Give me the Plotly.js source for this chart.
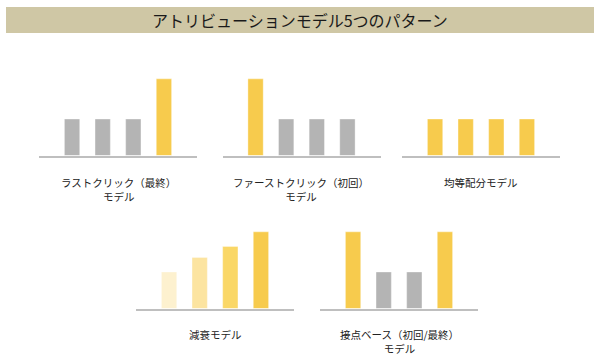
<!DOCTYPE html>
<html>
<head>
<meta charset="utf-8">
<script src="https://cdn.plot.ly/plotly-3.0.1.min.js"></script>
<style>html,body{margin:0;padding:0;background:#fff;}#chart{width:600px;height:360px;}</style>
</head>
<body>
<div id="chart"></div>
<script>
// ---- data ----
const chartTitle = 'アトリビューションモデル5つのパターン';
const touchpoints = ['接点1', '接点2', '接点3', '接点4'];
const modelNames = [
  'ラストクリック（最終）<br>モデル',
  'ファーストクリック（初回）<br>モデル',
  '均等配分モデル',
  '減衰モデル',
  '接点ベース（初回/最終）<br>モデル'
];
const lastClickValues = [1.0, 1.0, 1.0, 2.1];
const firstClickValues = [2.1, 1.0, 1.0, 1.0];
const linearValues = [1.0, 1.0, 1.0, 1.0];
const timeDecayValues = [1.0, 1.4, 1.7, 2.1];
const positionBasedValues = [2.1, 1.0, 1.0, 2.1];

// ---- styles ----
const GRAY = '#B4B4B4';
const GOLD = '#F7CB4D';
const colorSets = [
  [GRAY, GRAY, GRAY, GOLD],
  [GOLD, GRAY, GRAY, GRAY],
  [GOLD, GOLD, GOLD, GOLD],
  ['#FDF1CF', '#FCE4A0', '#FAD766', GOLD],
  [GOLD, GRAY, GRAY, GOLD]
];
const valueSets = [lastClickValues, firstClickValues, linearValues, timeDecayValues, positionBasedValues];

const W = 600, H = 360;
const panelW = 158;
const starts = [39, 222.5, 402, 136, 320];
const baselines = [155.5, 155.5, 155.5, 308.5, 308.5];
const firstLineCenters = [182.5, 182.5, 182.5, 334.5, 334.5];
const fontSize = 10.5;
const lineGap = fontSize * 1.3;
const yMax = 2.2, unitPx = 36.5;

const traces = [];
const layout = {
  width: W, height: H,
  margin: {l: 0, r: 0, t: 0, b: 0},
  paper_bgcolor: '#ffffff',
  plot_bgcolor: 'rgba(0,0,0,0)',
  showlegend: false,
  bargap: 0.5,
  font: {family: '"Noto Sans CJK JP", "Noto Sans", sans-serif', color: '#222222'},
  shapes: [{
    type: 'rect', xref: 'paper', yref: 'paper',
    x0: 6 / W, x1: 594 / W, y0: 1 - 33 / H, y1: 1 - 7 / H,
    fillcolor: '#CFC7A5', line: {width: 0}, layer: 'below'
  }],
  annotations: [{
    text: chartTitle, xref: 'paper', yref: 'paper',
    x: 0.5, y: 1 - 20 / H, xanchor: 'center', yanchor: 'middle',
    showarrow: false, font: {size: 16, color: '#1a1a1a'}
  }]
};

valueSets.forEach((vals, i) => {
  const n = i + 1;
  const xa = 'xaxis' + (n === 1 ? '' : n);
  const ya = 'yaxis' + (n === 1 ? '' : n);
  traces.push({
    type: 'bar', x: touchpoints, y: vals,
    xaxis: 'x' + (n === 1 ? '' : n), yaxis: 'y' + (n === 1 ? '' : n),
    width: 0.5,
    marker: {color: colorSets[i], line: {color: 'rgba(255,255,255,0.35)', width: 1}},
    hoverinfo: 'skip'
  });
  const x0 = starts[i] / W, x1 = (starts[i] + panelW) / W;
  const yb = 1 - baselines[i] / H;
  const yt = yb + yMax * unitPx / H;
  layout[xa] = {
    domain: [x0, x1], anchor: 'y' + (n === 1 ? '' : n),
    type: 'category', range: [-1.08, 4.08], fixedrange: true,
    showline: true, linecolor: '#BFBFBF', linewidth: 2,
    showgrid: false, zeroline: false, showticklabels: false, ticks: ''
  };
  layout[ya] = {
    domain: [yb, yt], anchor: 'x' + (n === 1 ? '' : n),
    range: [0, yMax], fixedrange: true, visible: false,
    showgrid: false, zeroline: false
  };
  const nLines = modelNames[i].split('<br>').length;
  const centerPx = firstLineCenters[i] + (nLines - 1) * lineGap / 2;
  layout.annotations.push({
    text: modelNames[i], xref: 'paper', yref: 'paper',
    x: (x0 + x1) / 2, y: 1 - centerPx / H,
    xanchor: 'center', yanchor: 'middle', align: 'center',
    showarrow: false, font: {size: fontSize, color: '#222222'}
  });
});

Plotly.newPlot('chart', traces, layout, {displayModeBar: false, staticPlot: true});
</script>
</body>
</html>
